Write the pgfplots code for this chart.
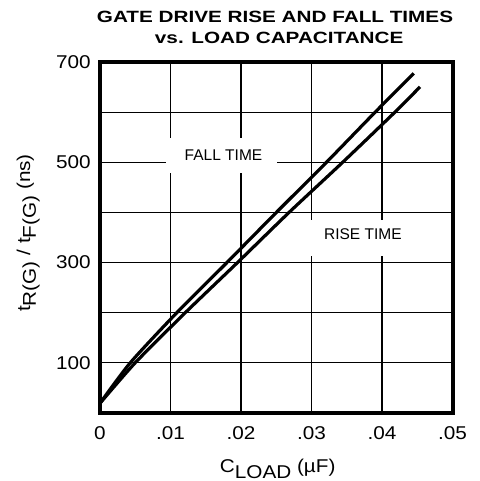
\documentclass[border=0pt]{standalone}
\usepackage{fontspec}
\setmainfont{Liberation Sans}
\newfontfamily\tickfont{Liberation Sans}[FakeStretch=1.12]
\newfontfamily\titlefont{Liberation Sans}[FakeStretch=1.27]
\usepackage{pgfplots}
\pgfplotsset{compat=1.18}
\begin{document}
\begin{tikzpicture}
\path[use as bounding box] (-100pt,-68.2pt) rectangle (379pt,412.8pt);
\begin{axis}[
  at={(0pt,0pt)}, anchor=south west,
  scale only axis, width=352.5pt, height=350.5pt,
  xmin=0, xmax=0.05, ymin=0, ymax=700,
  xtick={0,0.01,0.02,0.03,0.04,0.05},
  xticklabels={0,.01,.02,.03,.04,.05},
  ytick={100,200,300,400,500,600,700},
  yticklabels={100,,300,,500,,700},
  grid=major,
  major grid style={black, line width=1.3pt},
  major tick length=0pt,
  axis line style={line width=4pt},
  tick label style={font=\tickfont\fontsize{18.5}{20}\selectfont, inner sep=0pt},
  xticklabel style={anchor=north, yshift=-13.9pt},
  yticklabel style={anchor=east, xshift=-9.2pt},
  scaled ticks=false,
]
\addplot[black, line width=3.2pt, smooth, tension=0.4] coordinates {
 (0,19) (0.0043,100) (0.0109,200) (0.0180,300) (0.0250,400) (0.0321,500) (0.0390,600) (0.0445,678)};
\addplot[black, line width=3.2pt, smooth, tension=0.4] coordinates {
 (0,19) (0.0050,100) (0.0121,200) (0.0195,300) (0.0268,400) (0.0344,500) (0.0418,600) (0.0454,651)};
\end{axis}
\fill[white] (66pt,239.8pt) rectangle (177pt,274.8pt);
\node[inner sep=0pt, font=\fontsize{15.5}{17}\selectfont] at (123.5pt,258pt) {FALL TIME};
\fill[white] (208pt,156.8pt) rectangle (317pt,192.8pt);
\node[inner sep=0pt, font=\fontsize{15.5}{17}\selectfont] at (262.9pt,179pt) {RISE TIME};
\node[inner sep=0pt, anchor=base, font=\titlefont\bfseries\fontsize{16.3}{19}\selectfont] at (175pt,390.5pt) {GATE DRIVE RISE AND FALL TIMES};
\node[inner sep=0pt, anchor=base, font=\titlefont\bfseries\fontsize{16.3}{19}\selectfont] at (179.2pt,369.5pt) {vs. LOAD CAPACITANCE};
\node[inner sep=0pt, anchor=base, font=\tickfont\fontsize{18.5}{20}\selectfont] at (177.7pt,-59.9pt) {C\raisebox{-5.7pt}{LOAD} (µF)};
\node[inner sep=0pt, rotate=90, anchor=center, font=\tickfont\fontsize{18.5}{20}\selectfont] at (-71.7pt,179.8pt) {t\raisebox{-5.7pt}{R(G)} / t\raisebox{-5.7pt}{F(G)} (ns)};
\end{tikzpicture}
\end{document}
